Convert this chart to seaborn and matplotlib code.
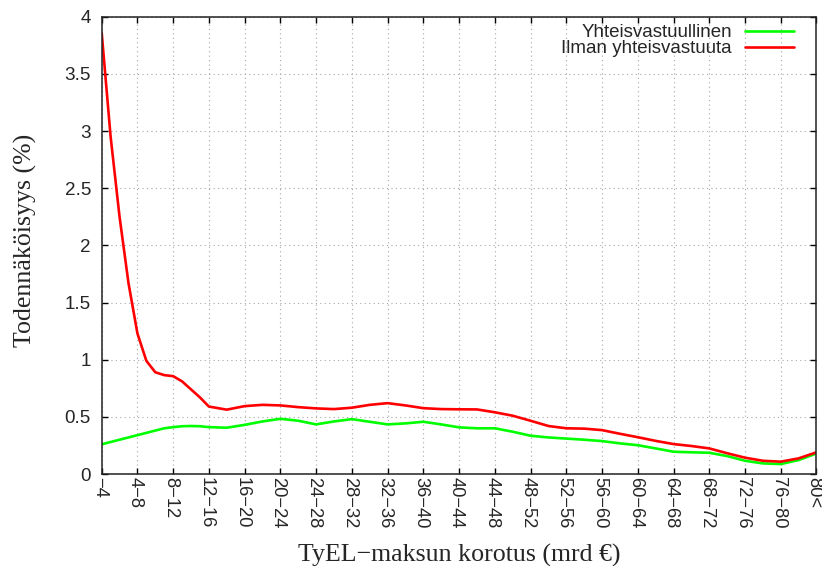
import numpy as np
import pandas as pd
import matplotlib
matplotlib.use("Agg")
import matplotlib.pyplot as plt
import matplotlib.transforms as mtransforms
import seaborn as sns

# Category tick labels (TyEL-maksun korotus, mrd €)
categories = ["\u22124", "4\u22128", "8\u221212", "12\u221216", "16\u221220", "20\u221224",
              "24\u221228", "28\u221232", "32\u221236", "36\u221240", "40\u221244", "44\u221248",
              "48\u221252", "52\u221256", "56\u221260", "60\u221264", "64\u221268", "68\u221272",
              "72\u221276", "76\u221280", "80<"]

# Sample positions in category units (quarter steps at the start, then half steps)
x_pos = [0, 0.25, 0.5, 0.75, 1.0, 1.25, 1.5, 1.75, 2.0, 2.25, 2.5, 2.75,
         3.0, 3.5, 4.0, 4.5, 5.0, 5.5, 6.0, 6.5, 7.0, 7.5, 8.0, 8.5, 9.0, 9.5,
         10.0, 10.5, 11.0, 11.5, 12.0, 12.5, 13.0, 13.5, 14.0, 14.5, 15.0, 15.5,
         16.0, 16.5, 17.0, 17.5, 18.0, 18.5, 19.0, 19.5, 20.0]

# Values (%) at each sample position
yhteis = [0.26, 0.28, 0.30, 0.32, 0.34, 0.36, 0.38, 0.40, 0.41, 0.418, 0.42, 0.418,
          0.41, 0.405, 0.43, 0.46,
          0.483, 0.466, 0.434, 0.46, 0.48, 0.457, 0.434, 0.443, 0.457, 0.434,
          0.408, 0.40, 0.40, 0.37, 0.335, 0.32, 0.31, 0.30, 0.288, 0.268,
          0.252, 0.224, 0.195, 0.19, 0.186, 0.157, 0.116, 0.093, 0.087, 0.122,
          0.18]
ilman = [3.86, 2.95, 2.25, 1.67, 1.23, 0.99, 0.89, 0.865, 0.856, 0.81, 0.74, 0.67,
         0.59, 0.563, 0.594, 0.605,
         0.60, 0.585, 0.574, 0.568, 0.58, 0.605, 0.62, 0.60, 0.576, 0.568,
         0.566, 0.565, 0.54, 0.51, 0.466, 0.42, 0.40, 0.397, 0.384, 0.352,
         0.322, 0.29, 0.262, 0.245, 0.224, 0.182, 0.143, 0.116, 0.108, 0.137,
         0.19]

series_names = ["Yhteisvastuullinen", "Ilman yhteisvastuuta"]
y_ticks = [0, 0.5, 1, 1.5, 2, 2.5, 3, 3.5, 4]
y_ticklabels = ["0", "0.5", "1", "1.5", "2", "2.5", "3", "3.5", "4"]

df = pd.DataFrame({
    "x": list(x_pos) + list(x_pos),
    "y": yhteis + ilman,
    "sarja": [series_names[0]] * len(x_pos) + [series_names[1]] * len(x_pos),
})

sns.set_style("ticks")
plt.rcParams["font.family"] = ["Liberation Sans", "DejaVu Sans"]

fig = plt.figure(figsize=(8.22, 5.66), dpi=100)
ax = fig.add_axes([0.1237, 0.1625, 0.9933 - 0.1237, 0.9705 - 0.1625])

sns.lineplot(data=df, x="x", y="y", hue="sarja", hue_order=series_names,
             palette={series_names[0]: "#00ff00", series_names[1]: "#ff0000"},
             linewidth=1.9, ax=ax, legend=True)

ax.set_xlim(0, len(categories) - 1)
ax.set_ylim(0, 4)
ax.set_xticks(np.arange(len(categories)))
ax.set_xticklabels(categories, rotation=-90, ha="center", va="top", fontsize=13.2)
ax.set_yticks(y_ticks)
ax.set_yticklabels(y_ticklabels, fontsize=13.6)

ax.tick_params(axis="both", direction="in", length=4.5, width=1.0,
               top=True, right=True, color="black")
ax.tick_params(axis="x", pad=2.2)
ax.tick_params(axis="y", pad=7.7)

shift = mtransforms.ScaledTranslation(-1.8 / 72, 0, fig.dpi_scale_trans)
for lbl in ax.get_xticklabels():
    lbl.set_transform(lbl.get_transform() + shift)

for s in ax.spines.values():
    s.set_visible(True)
    s.set_linewidth(1.1)
    s.set_color("#222222")

ax.grid(True, linestyle=(0, (1, 3)), color="#a8a8a8", linewidth=0.8)
ax.set_axisbelow(True)

serif = ["Liberation Serif", "DejaVu Serif"]
ax.set_xlabel("TyEL\u2212maksun korotus (mrd \u20ac)", family=serif, fontsize=18.6, va="center")
ax.xaxis.set_label_coords(0.5, -0.178)
ax.set_ylabel("Todennäköisyys (%)", family=serif, fontsize=18.6, va="center")
ax.yaxis.set_label_coords(-0.106, 0.51)

leg = ax.legend(loc="upper right", bbox_to_anchor=(0.9685, 0.9836), frameon=False,
                markerfirst=False, handlelength=2.6, handletextpad=0.7,
                borderpad=0, borderaxespad=0, labelspacing=-0.06, fontsize=13.5)
for line in leg.get_lines():
    line.set_linewidth(1.9)

fig.savefig("out.png", dpi=100)
